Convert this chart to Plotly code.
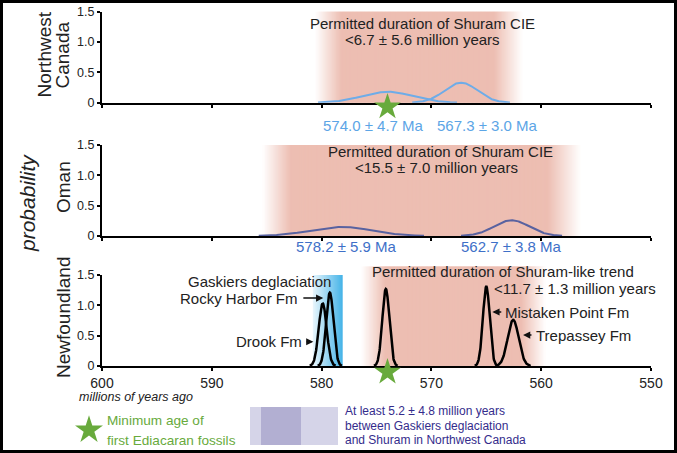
import numpy as np
import plotly.graph_objects as go

W, H = 677, 453

# ---------------- data ----------------
x_ticks = [600, 590, 580, 570, 560, 550]
y_ticks = [0, 0.5, 1.0, 1.5]
y_ticktext = ["0", "0.5", "1.0", "1.5"]

# Northwest Canada ages (Ma) and read-off curve shapes
nw_mean = [574.0, 567.3]
nw_err = [4.7, 3.0]
nw_peak = [0.18, 0.33]
nw_sigma = [2.3, 1.5]

# Oman
om_mean = [578.2, 562.7]
om_err = [5.9, 3.8]
om_peak = [0.15, 0.26]
om_sigma = [2.8, 1.6]

# Newfoundland
nf_names = ["Drook Fm", "Rocky Harbor Fm", "", "Mistaken Point Fm", "Trepassey Fm"]
nf_mean = [579.9, 579.25, 574.15, 565.0, 562.55]
nf_peak = [1.03, 1.21, 1.27, 1.31, 0.76]
nf_sigma = [0.36, 0.33, 0.32, 0.31, 0.50]

# permitted Shuram windows (left Ma, right Ma, left fade, right fade, top)
shuram_nw = [580.6, 561.7, 2.4, 2.6, 1.5]
shuram_om = [585.4, 556.4, 2.6, 3.0, 1.5]
shuram_nf = [576.4, 559.6, 2.2, 2.2, 1.64]
gaskiers = [580.8, 578.1]

dur_nw = "<6.7 ± 5.6 million years"
dur_om = "<15.5 ± 7.0 million years"
dur_nf = "<11.7 ± 1.3 million years"

fossil_age = 574.0
star_y = [-0.07, -0.1]   # NW Canada panel, Newfoundland panel

# ---------------- layout geometry ----------------
def px(x):
    return x / W

def py(y):
    return 1 - y / H

xdom = [px(102), px(651)]
ydoms = [[py(102.7), py(11.7)], [py(236), py(145)], [py(366), py(275)]]
YMAX = 1.5
YLOW = -0.3

def ypaper(panel, v):
    d0, d1 = ydoms[panel]
    return d0 + v / YMAX * (d1 - d0)

RED = (237, 190, 178)
BLUE = (70, 180, 232)
NW_COL = "rgb(110,172,232)"
NW_TXT = "rgb(92,165,230)"
OM_COL = "rgb(88,98,160)"
OM_TXT = "rgb(62,112,200)"
GREEN = "rgb(104,170,60)"
LEG_TXT = "rgb(52,44,140)"

SANS = "Liberation Sans, Arial, sans-serif"

fig = go.Figure()
shapes = []
ann = []

def blend(c, a):
    a = max(0.0, min(1.0, a))
    return "rgb(%d,%d,%d)" % tuple(round(255 - a * (255 - v)) for v in c)

def gradient_region(xr, panel, reg, color, step=0.12):
    left, right, fl, fr, top = reg
    y0, y1 = ypaper(panel, 0), ypaper(panel, top)
    edges = list(np.arange(left, right, -step)) + [right]
    for i in range(len(edges) - 1):
        a, b = edges[i], edges[i + 1]
        c = (a + b) / 2
        al = min(1.0, (left - c) / fl, (c - right) / fr)
        x1 = max(b - step, right) if i < len(edges) - 2 else b
        shapes.append(dict(type="rect", xref=xr, yref="paper", x0=a, x1=x1, y0=y0, y1=y1,
                           fillcolor=blend(color, al), line=dict(width=0), layer="below"))

gradient_region("x", 0, shuram_nw, RED)
gradient_region("x2", 1, shuram_om, RED)
gradient_region("x3", 2, shuram_nf, RED)

g_edges = list(np.arange(gaskiers[0], gaskiers[1], -0.1)) + [gaskiers[1]]
for i in range(len(g_edges) - 1):
    a, b = g_edges[i], g_edges[i + 1]
    al = 0.12 + 0.88 * (gaskiers[0] - (a + b) / 2) / (gaskiers[0] - gaskiers[1])
    x1 = max(b - 0.1, gaskiers[1]) if i < len(g_edges) - 2 else b
    shapes.append(dict(type="rect", xref="x3", yref="paper", x0=a, x1=x1,
                       y0=ypaper(2, 0), y1=ypaper(2, 1.5),
                       fillcolor=blend(BLUE, al), line=dict(width=0), layer="below"))

xs = np.linspace(600, 550, 2001)

def gauss(m, s, p):
    y = p * np.exp(-0.5 * ((xs - m) / s) ** 2)
    return np.where(y > 0.004, y, None)

for m, s, p in zip(nw_mean, nw_sigma, nw_peak):
    fig.add_trace(go.Scatter(x=xs, y=gauss(m, s, p), mode="lines", line=dict(color=NW_COL, width=2),
                             xaxis="x", yaxis="y", hoverinfo="skip", showlegend=False))
for m, s, p in zip(om_mean, om_sigma, om_peak):
    fig.add_trace(go.Scatter(x=xs, y=gauss(m, s, p), mode="lines", line=dict(color=OM_COL, width=2),
                             xaxis="x2", yaxis="y2", hoverinfo="skip", showlegend=False))
for m, s, p in zip(nf_mean, nf_sigma, nf_peak):
    fig.add_trace(go.Scatter(x=xs, y=gauss(m, s, p), mode="lines", line=dict(color="black", width=2.5),
                             xaxis="x3", yaxis="y3", hoverinfo="skip", showlegend=False))

# stars (on invisible extended y axes sharing the panels' scales)
fig.add_trace(go.Scatter(x=[fossil_age], y=[star_y[0]], mode="markers", xaxis="x", yaxis="y5",
                         marker=dict(symbol="star", size=20, color=GREEN, line=dict(width=0)),
                         cliponaxis=False, hoverinfo="skip", showlegend=False))
fig.add_trace(go.Scatter(x=[fossil_age], y=[star_y[1]], mode="markers", xaxis="x3", yaxis="y6",
                         marker=dict(symbol="star", size=20, color=GREEN, line=dict(width=0)),
                         cliponaxis=False, hoverinfo="skip", showlegend=False))
fig.add_trace(go.Scatter(x=[px(89)], y=[py(430)], mode="markers", xaxis="x4", yaxis="y4",
                         marker=dict(symbol="star", size=21, color=GREEN, line=dict(width=0)),
                         cliponaxis=False, hoverinfo="skip", showlegend=False))

def a(text, x, y, xr, yr, size=15, color="#222", xanchor="center", family=SANS, **kw):
    ann.append(dict(text=text, x=x, y=y, xref=xr, yref=yr, showarrow=False, xanchor=xanchor,
                    yanchor="middle", font=dict(size=size, color=color, family=family), **kw))

a("Permitted duration of Shuram CIE", 570.85, ypaper(0, 1.31), "x", "paper")
a(dur_nw, 570.85, ypaper(0, 1.05), "x", "paper")
for m, e, xc in zip(nw_mean, nw_err, [575.3, 564.9]):
    a("%.1f ± %.1f Ma" % (m, e), xc, ypaper(0, -0.37), "x", "paper", color=NW_TXT)

a("Permitted duration of Shuram CIE", 569.2, ypaper(1, 1.385), "x2", "paper")
a(dur_om, 569.5, ypaper(1, 1.13), "x2", "paper")
for m, e, xc in zip(om_mean, om_err, [577.7, 562.7]):
    a("%.1f ± %.1f Ma" % (m, e), xc, ypaper(1, -0.165), "x2", "paper", color=OM_TXT)

a("Permitted duration of Shuram-like trend", 563.5, ypaper(2, 1.55), "x3", "paper")
a(dur_nf, 564.45, ypaper(2, 1.28), "x3", "paper", xanchor="left")
a("Gaskiers deglaciation", 578.95, ypaper(2, 1.385), "x3", "paper", xanchor="right")
a(nf_names[1], 581.95, ypaper(2, 1.12), "x3", "paper", xanchor="right")
a(nf_names[0], 581.6, ypaper(2, 0.40), "x3", "paper", xanchor="right")
a(nf_names[3], 563.45, ypaper(2, 0.89), "x3", "paper", xanchor="left")
a(nf_names[4], 560.7, ypaper(2, 0.51), "x3", "paper", xanchor="left")

def arrow(x0, x1, y, xr, yr):
    ann.append(dict(text="", x=x1, y=y, ax=x0, ay=y, xref=xr, yref=yr, axref=xr, ayref=yr,
                    showarrow=True, arrowhead=2, arrowsize=0.9, arrowwidth=1.6, arrowcolor="#111",
                    standoff=0, startstandoff=0))

arrow(581.8, 579.85, 1.12, "x3", "y3")
arrow(581.5, 580.75, 0.40, "x3", "y3")
arrow(563.5, 564.45, 0.89, "x3", "y3")
arrow(560.75, 561.65, 0.51, "x3", "y3")

a("Northwest", px(44.5), py(55), "paper", "paper", size=19, textangle=-90)
a("Canada", px(62.5), py(55), "paper", "paper", size=19, textangle=-90)
a("Oman", px(63), py(187), "paper", "paper", size=19, textangle=-90)
a("Newfoundland", px(63), py(318), "paper", "paper", size=19, textangle=-90)
a("<i>probability</i>", px(27), py(203), "paper", "paper", size=21, textangle=-90)
a("<i>millions of years ago</i>", px(77), py(397), "paper", "paper", size=12.5, xanchor="left")

a("Minimum age of", px(105), py(420), "paper", "paper", size=13.6, color=GREEN, xanchor="left")
a("first Ediacaran fossils", px(105), py(440), "paper", "paper", size=13.6, color=GREEN, xanchor="left")
shapes.append(dict(type="rect", xref="paper", yref="paper", x0=px(250), x1=px(338), y0=py(445), y1=py(407),
                   fillcolor="rgb(213,212,232)", line=dict(width=0)))
shapes.append(dict(type="rect", xref="paper", yref="paper", x0=px(261), x1=px(301), y0=py(445), y1=py(407),
                   fillcolor="rgb(178,175,210)", line=dict(width=0)))
for t, yy in zip(["At least 5.2 ± 4.8 million years", "between Gaskiers deglaciation",
                  "and Shuram in Northwest Canada"], [411, 425.5, 440]):
    a(t, px(343), py(yy), "paper", "paper", size=12, color=LEG_TXT, xanchor="left")

shapes.append(dict(type="rect", xref="paper", yref="paper", x0=0, x1=1, y0=0, y1=1,
                   line=dict(color="black", width=6), fillcolor="rgba(0,0,0,0)"))

axis_common = dict(showline=True, linecolor="black", linewidth=2, ticks="outside", ticklen=3,
                   tickwidth=1.5, tickcolor="black", showgrid=False, zeroline=False, automargin=False,
                   layer="above traces")
layout = dict(width=W, height=H, autosize=False,
              margin=dict(l=0, r=0, t=0, b=0, pad=0, autoexpand=False),
              paper_bgcolor="white", plot_bgcolor="rgba(0,0,0,0)", shapes=shapes, annotations=ann,
              showlegend=False)
for i, (xn, yn) in enumerate([("xaxis", "yaxis"), ("xaxis2", "yaxis2"), ("xaxis3", "yaxis3")]):
    sfx = "" if i == 0 else str(i + 1)
    layout[xn] = dict(axis_common, domain=xdom, range=[600, 550], tickvals=x_ticks, anchor="y" + sfx,
                      showticklabels=(i == 2),
                      tickfont=dict(family=SANS, size=14, color="#222"))
    layout[yn] = dict(axis_common, domain=ydoms[i], range=[0, YMAX], tickvals=y_ticks, ticktext=y_ticktext,
                      anchor="x" + sfx, tickfont=dict(family=SANS, size=12.5, color="#222"))
layout["xaxis4"] = dict(domain=[0, 1], range=[0, 1], visible=False, anchor="y4")
layout["yaxis4"] = dict(domain=[0, 1], range=[0, 1], visible=False, anchor="x4")
layout["yaxis5"] = dict(domain=[ypaper(0, YLOW), ypaper(0, YMAX)], range=[YLOW, YMAX], visible=False,
                        anchor="x")
layout["yaxis6"] = dict(domain=[ypaper(2, YLOW), ypaper(2, YMAX)], range=[YLOW, YMAX], visible=False,
                        anchor="x3")
fig.update_layout(**layout)
fig.write_html("out.html", config={"responsive": False, "displayModeBar": False},
               post_script="document.body.style.margin='0';document.body.style.overflow='hidden';")
